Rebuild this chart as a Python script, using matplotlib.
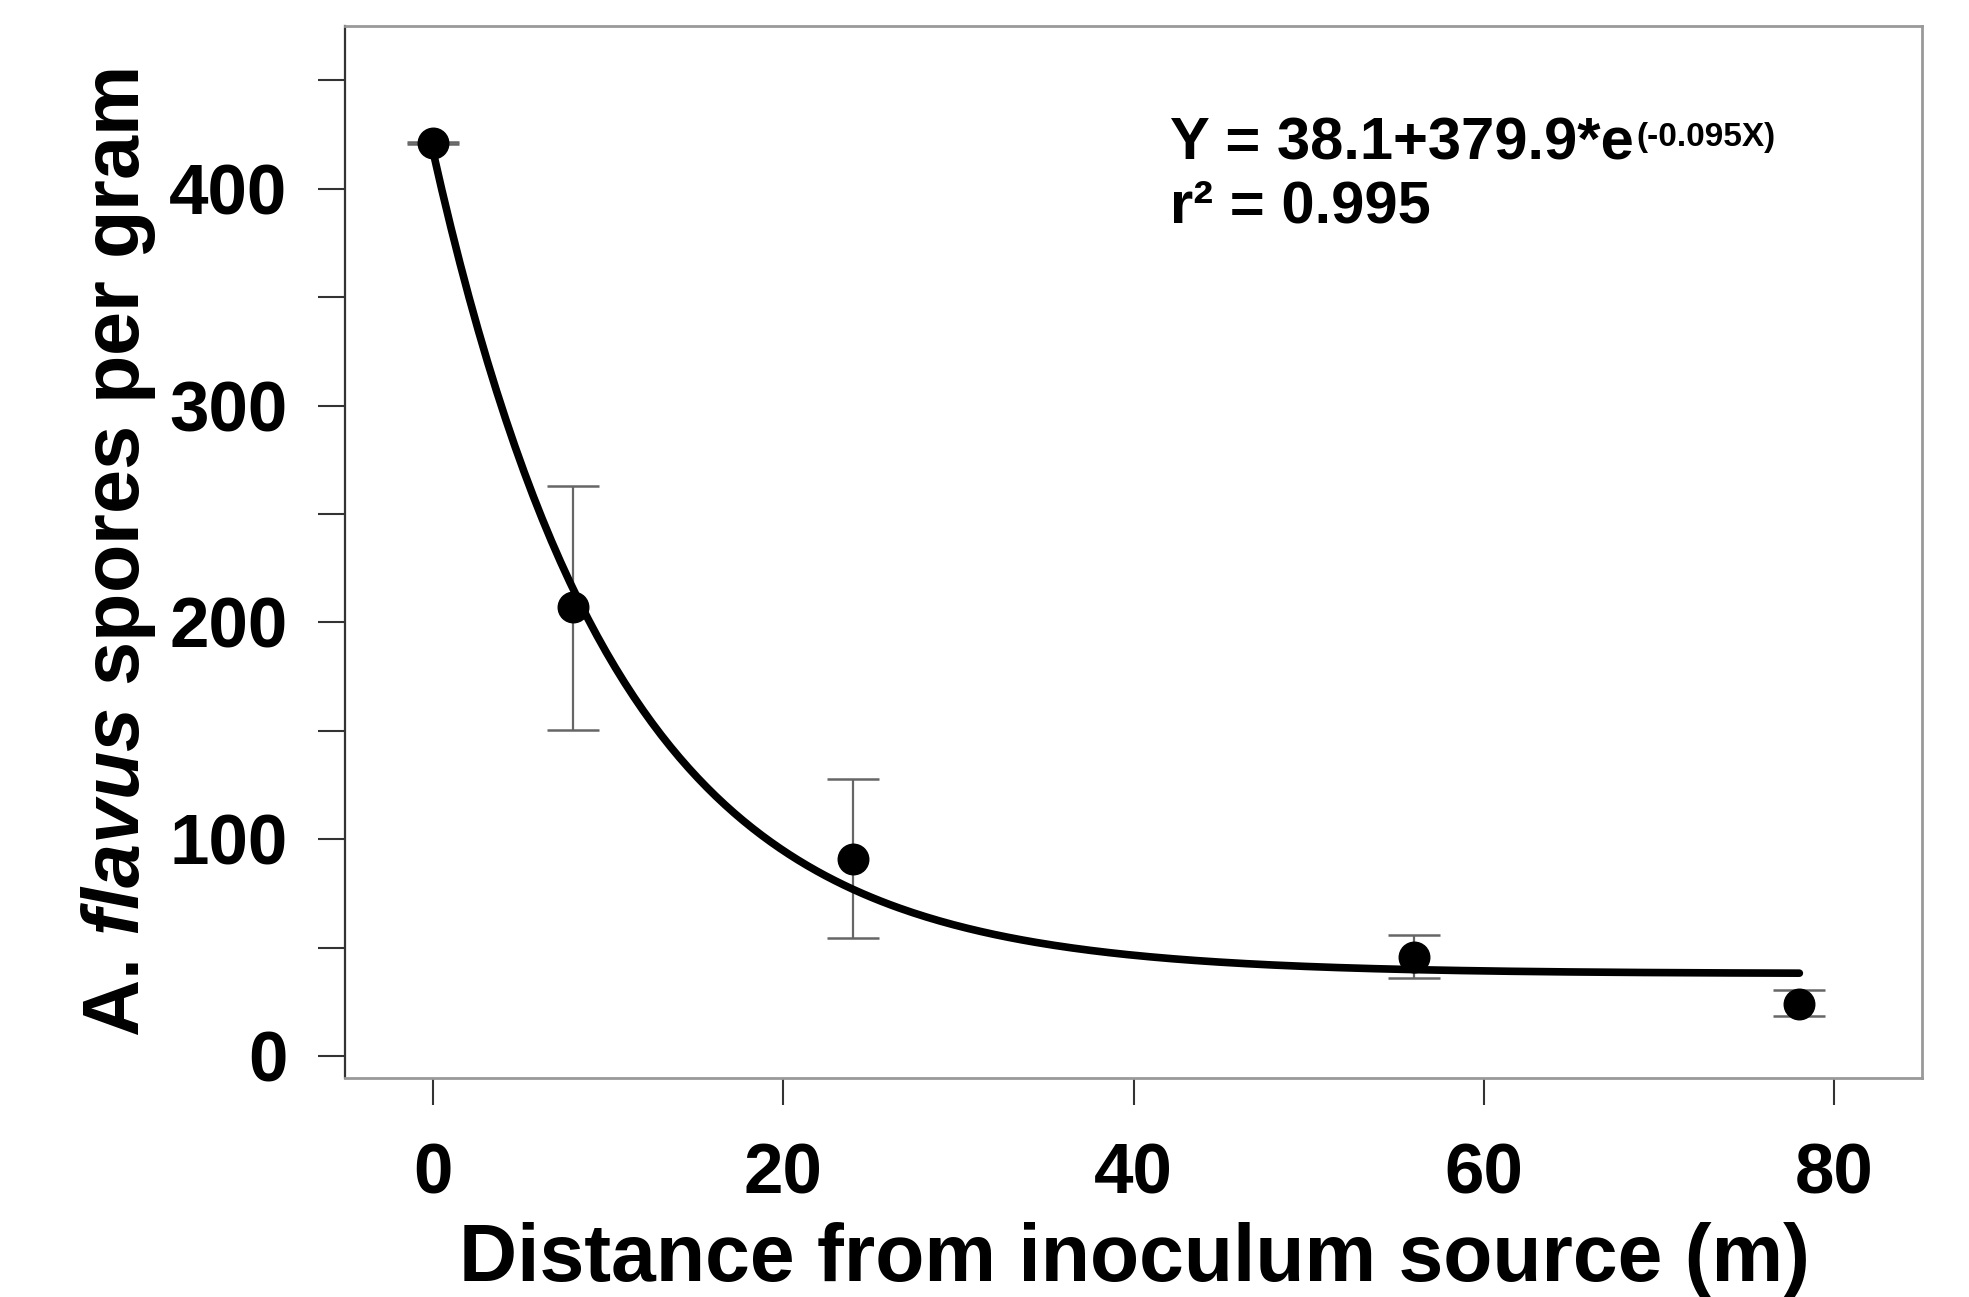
import numpy as np
import matplotlib
matplotlib.use("Agg")
import matplotlib.pyplot as plt
from matplotlib import font_manager

# data
distance = [0, 8, 24, 56, 78]
spores = [421, 207, 91, 46, 24]
err_low = [0.5, 56.5, 36.5, 10, 5.5]
err_high = [0.5, 56, 37, 10, 6.5]

# fitted curve  Y = a + b*exp(c*X)
fit_a, fit_b, fit_c = 38.1, 379.9, -0.095
fit_x_range = (0, 78)

x_ticks = [0, 20, 40, 60, 80]
y_ticks = [0, 100, 200, 300, 400]
y_minor = [50, 150, 250, 350, 450]

names = {f.name for f in font_manager.fontManager.ttflist}
narrow = "Liberation Sans Narrow" if "Liberation Sans Narrow" in names else "Liberation Sans"

plt.rcParams['font.family'] = ['Liberation Sans', 'DejaVu Sans']
plt.rcParams['mathtext.fontset'] = 'custom'
plt.rcParams['mathtext.it'] = narrow + ':italic:bold'
plt.rcParams['mathtext.rm'] = narrow + ':bold'

fig = plt.figure(figsize=(19.69, 12.97), dpi=100)
ax = fig.add_axes([345/1969, 1 - 1078/1297, (1922-345)/1969, (1078-26)/1297])

xs = np.linspace(fit_x_range[0], fit_x_range[1], 300)
ax.plot(xs, fit_a + fit_b*np.exp(fit_c*xs), color='black', lw=5.5,
        solid_capstyle='round', zorder=2)

ax.errorbar(distance, spores, yerr=[err_low, err_high], fmt='none',
            ecolor='#666666', elinewidth=1.6, capsize=19, capthick=1.8, zorder=1)
ax.plot(distance, spores, 'o', color='black', ms=22, zorder=3)

ax.set_xlim(-5, 85)
ax.set_ylim(-10, 475)
ax.set_xticks(x_ticks)
ax.set_yticks(y_ticks)
ax.set_yticks(y_minor, minor=True)

ax.tick_params(axis='both', which='both', direction='out', length=19.5,
               width=1.5, color='#333333')
ax.tick_params(axis='x', labelsize=51, pad=27)
ax.tick_params(axis='y', labelsize=51, pad=22)
for lab in ax.get_xticklabels() + ax.get_yticklabels():
    lab.set_fontweight('bold')

for side in ['top', 'right', 'bottom']:
    ax.spines[side].set_color('#999999')
    ax.spines[side].set_linewidth(2)
ax.spines['left'].set_color('#333333')
ax.spines['left'].set_linewidth(1.6)

# equation
eq = ax.text(1170/1969, 1 - 159/1297, "Y = 38.1+379.9*e", transform=fig.transFigure,
             fontsize=43, fontweight='bold', ha='left', va='baseline')
ax.annotate("(-0.095X)", xy=(1.0, 1.0), xycoords=eq, xytext=(2, -4),
            textcoords='offset points', fontsize=24, fontweight='bold',
            ha='left', va='top')
fig.text(1170/1969, 1 - 223/1297, "r\u00b2 = 0.995", fontsize=43,
         fontweight='bold', ha='left', va='baseline')

# axis labels
fig.text(1134/1969, 1 - 1281/1297, "Distance from inoculum source (m)",
         fontsize=58, fontweight='bold', ha='center', va='baseline')
fig.text(119/1969, 1 - 553/1297, r"A. $\mathit{flavus}$ spores per gram",
         fontsize=57, fontweight='bold', family=narrow, rotation=90,
         ha='center', va='center')

fig.savefig("out.png", dpi=100)
